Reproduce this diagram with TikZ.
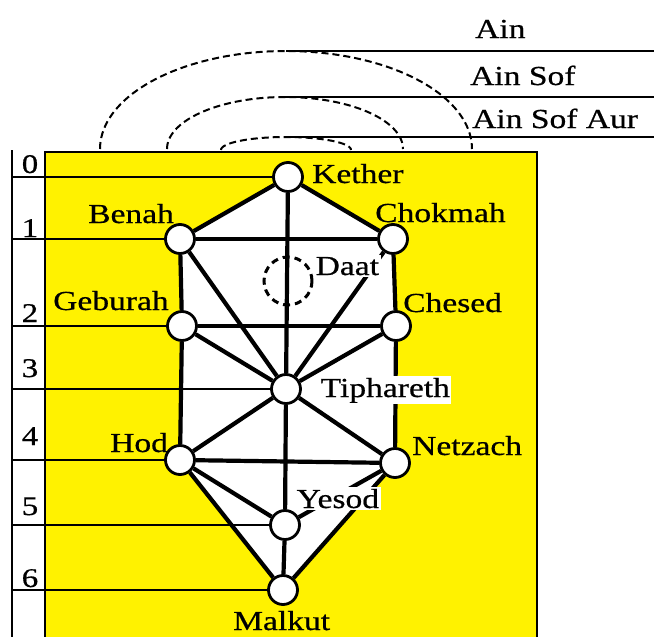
\documentclass[tikz,border=0pt]{standalone}
\usepackage{fontspec}
\setmainfont{Liberation Serif}[FakeStretch=1.22,FakeBold=0.6]
\begin{document}
\begin{tikzpicture}[x=1pt,y=-1pt,
  lvl/.style={line width=1.8pt},
  edge/.style={line width=4.2pt},
  sef/.style={circle, draw, fill=white, line width=2.8pt, minimum size=29pt, inner sep=0pt},
  lab/.style={anchor=base west, inner sep=0pt, font=\fontsize{27.5}{30}\selectfont},
  wlab/.style={lab, fill=white, inner sep=1.5pt},
  num/.style={anchor=base, inner sep=0pt, font=\fontsize{27}{30}\selectfont},
  arcd/.style={line width=2pt, dash pattern=on 7pt off 4pt},
  frame/.style={line width=2pt}
]
\useasboundingbox (0,0) rectangle (654,637);
% yellow field and left column
\fill[yellow] (45,152) rectangle (537,640);
\draw[frame] (45,640) -- (45,152) -- (537,152) -- (537,640);
\draw[frame] (12,150) -- (12,640);
% sefirot positions
\coordinate (cK) at (288,177);
\coordinate (cCh) at (393,239);
\coordinate (cB) at (180,239);
\coordinate (cCs) at (396,326);
\coordinate (cG) at (182,326);
\coordinate (cT) at (286,389);
\coordinate (cH) at (180,460);
\coordinate (cN) at (395,463);
\coordinate (cY) at (285,525);
\coordinate (cM) at (283,590);
% white interior
\fill[white] (cK) -- (cCh) -- (cCs) -- (cN) -- (cM) -- (cH) -- (cG) -- (cB) -- cycle;
% dashed arcs (Ain, Ain Sof, Ain Sof Aur)
\draw[arcd] plot[domain=180:360, samples=80] ({286+186*cos(\x)}, {149+98*sin(\x)});
\draw[arcd] plot[domain=180:360, samples=80] ({285+118*cos(\x)}, {149+52*sin(\x)});
\draw[arcd] plot[domain=180:360, samples=60] ({286+65*cos(\x)}, {150+13*sin(\x)});
\coordinate (a1) at (286,51);  \coordinate (e1) at (654,51);
\coordinate (a2) at (285,97);  \coordinate (e2) at (654,97);
\coordinate (a3) at (286,137); \coordinate (e3) at (654,137);
\draw[lvl] (a1) -- (e1);
\draw[lvl] (a2) -- (e2);
\draw[lvl] (a3) -- (e3);
% nodes
\node[sef] (K) at (cK) {};
\node[sef] (Ch) at (cCh) {};
\node[sef] (B) at (cB) {};
\node[sef] (Cs) at (cCs) {};
\node[sef] (G) at (cG) {};
\node[sef] (T) at (cT) {};
\node[sef] (H) at (cH) {};
\node[sef] (N) at (cN) {};
\node[sef] (Y) at (cY) {};
\node[sef] (M) at (cM) {};
\node[circle, draw, dash pattern=on 7pt off 5pt, line width=3pt, minimum size=48pt, inner sep=0pt] (D) at (288,281) {};
% level lines
\coordinate (L0) at (12,177);
\coordinate (L1) at (12,239);
\coordinate (L2) at (12,326);
\coordinate (L3) at (12,389);
\coordinate (L4) at (12,460);
\coordinate (L5) at (12,525);
\coordinate (L6) at (12,590);
\draw[lvl] (L0) -- (K);
\draw[lvl] (L1) -- (B);
\draw[lvl] (L2) -- (G);
\draw[lvl] (L3) -- (T);
\draw[lvl] (L4) -- (H);
\draw[lvl] (L5) -- (Y);
\draw[lvl] (L6) -- (M);
% paths
\draw[edge] (K) -- (B);
\draw[edge] (K) -- (Ch);
\draw[edge] (K) -- (T);
\draw[edge] (B) -- (Ch);
\draw[edge] (B) -- (G);
\draw[edge] (Ch) -- (Cs);
\draw[edge] (B) -- (T);
\draw[edge] (Ch) -- (T);
\draw[edge] (G) -- (Cs);
\draw[edge] (G) -- (T);
\draw[edge] (Cs) -- (T);
\draw[edge] (G) -- (H);
\draw[edge] (Cs) -- (N);
\draw[edge] (H) -- (T);
\draw[edge] (N) -- (T);
\draw[edge] (H) -- (N);
\draw[edge] (T) -- (Y);
\draw[edge] (H) -- (Y);
\draw[edge] (N) -- (Y);
\draw[edge] (H) -- (M);
\draw[edge] (N) -- (M);
\draw[edge] (Y) -- (M);
% labels
\node[lab] (tAin) at (475,38) {Ain};
\node[lab] (tAS) at (470,85) {Ain Sof};
\node[lab] (tASA) at (472,128) {Ain Sof Aur};
\node[lab] (tK) at (312,183) {Kether};
\node[lab] (tCh) at (375,222) {Chokmah};
\node[wlab] (tD) at (314,275) {Daat};
\node[lab] (tCs) at (403,312) {Chesed};
\node[lab] (tB) at (88,223) {Benah};
\node[lab] (tG) at (53,310) {Geburah};
\node[wlab] (tT) at (319,397) {Tiphareth};
\node[lab] (tH) at (110,452) {Hod};
\node[lab] (tN) at (412,455) {Netzach};
\node[wlab] (tY) at (295,508) {Yesod};
\node[lab] (tM) at (233,630) {Malkut};
% level numbers
\node[num] (n0) at (30,173) {0};
\node[num] (n1) at (30,237) {1};
\node[num] (n2) at (30,322) {2};
\node[num] (n3) at (30,377) {3};
\node[num] (n4) at (30,445) {4};
\node[num] (n5) at (30,515) {5};
\node[num] (n6) at (30,587) {6};
\end{tikzpicture}
\end{document}
